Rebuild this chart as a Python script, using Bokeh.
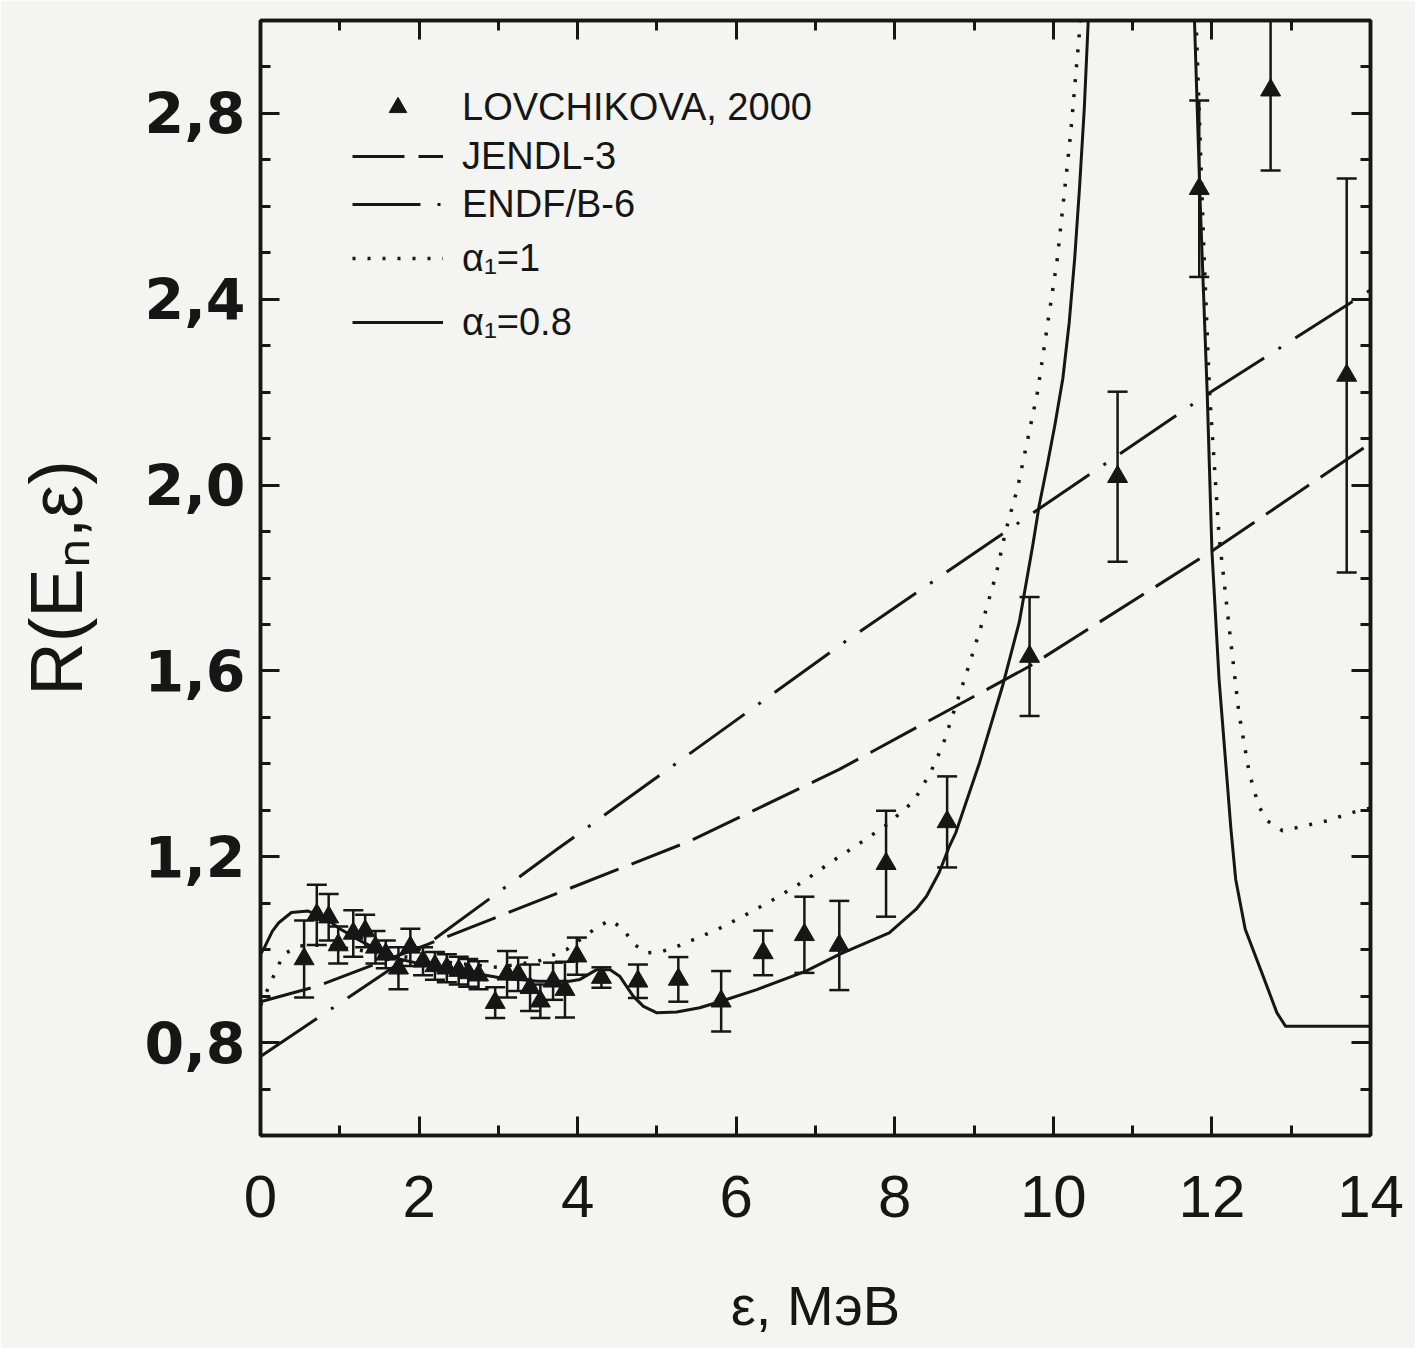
import math
from bokeh.plotting import figure
from bokeh.models import (Range1d, FixedTicker, CustomJSTickFormatter, LinearAxis,
                          Legend, LegendItem, ColumnDataSource)
from bokeh.embed import file_html
from bokeh.resources import INLINE

NaN = float("nan")

# ---------------- data ----------------
# LOVCHIKOVA, 2000 experimental points: energy (MeV), ratio, error
exp_x = [0.55, 0.71, 0.86, 0.98, 1.17, 1.32, 1.45, 1.58, 1.74, 1.89, 2.05, 2.20, 2.35,
         2.50, 2.62, 2.75, 2.96, 3.11, 3.25, 3.40, 3.53, 3.69, 3.84, 3.99, 4.30, 4.76,
         5.27, 5.81, 6.34, 6.86, 7.30, 7.89, 8.66, 9.70, 10.81, 11.84, 12.74, 13.70]
exp_y = [0.980, 1.075, 1.070, 1.010, 1.035, 1.040, 1.005, 0.990, 0.960, 1.005, 0.975, 0.965,
         0.960, 0.955, 0.950, 0.945, 0.886, 0.947, 0.947, 0.918, 0.889, 0.932, 0.914, 0.986,
         0.940, 0.932, 0.936, 0.889, 0.993, 1.032, 1.009, 1.185, 1.275, 1.631, 2.018, 2.638,
         2.850, 2.236]
exp_err = [0.083, 0.065, 0.050, 0.040, 0.050, 0.035, 0.035, 0.030, 0.045, 0.040, 0.030, 0.030,
           0.030, 0.030, 0.030, 0.030, 0.033, 0.050, 0.036, 0.050, 0.036, 0.040, 0.060, 0.040,
           0.022, 0.036, 0.048, 0.065, 0.048, 0.082, 0.096, 0.114, 0.098, 0.128, 0.183, 0.190,
           0.173, 0.424]

# JENDL-3 evaluation (dashed)
jendl_x = [0.0, 0.71, 2.1, 5.42, 7.3, 9.7, 12.0, 14.0]
jendl_y = [0.888, 0.921, 1.011, 1.234, 1.388, 1.610, 1.858, 2.090]

# ENDF/B-6 evaluation (dash-dot)
endf_x = [0.0, 2.1, 3.74, 7.39, 9.82, 11.92, 14.0]
endf_y = [0.770, 1.011, 1.216, 1.665, 1.949, 2.193, 2.420]

# calculation alpha1 = 1 (dotted); NaN = curve leaves the frame
a1_x = [0.0, 0.13, 0.29, 0.48, 0.8, 1.4, 2.0, 2.5, 3.0, 3.5, 3.86, 4.22, 4.41, 4.58, 4.70,
        4.87, 5.06, 5.23, 5.41, 5.77, 6.13, 6.49, 6.84, 7.20, 7.55, 7.91, 8.24, 8.45, 8.61,
        8.79, 8.96, 9.13, 9.28, 9.40, 9.55, 9.66, 9.80, 10.05, 10.22, 10.33, 10.42, NaN,
        11.76, 11.82, 11.90, 11.97, 12.09, 12.22, 12.34, 12.47, 12.59, 12.70, 12.89, 13.08,
        13.44, 13.79, 14.0]
a1_y = [0.880, 0.930, 0.990, 1.008, 1.010, 0.995, 0.980, 0.970, 0.962, 0.975, 1.000, 1.045,
        1.064, 1.044, 1.013, 0.993, 0.996, 1.005, 1.018, 1.044, 1.076, 1.110, 1.146, 1.189,
        1.228, 1.270, 1.320, 1.381, 1.442, 1.536, 1.625, 1.719, 1.809, 1.902, 1.995, 2.085,
        2.200, 2.487, 2.760, 2.976, 3.200, NaN,
        3.200, 2.900, 2.500, 2.200, 1.890, 1.690, 1.510, 1.381, 1.309, 1.277, 1.256, 1.263,
        1.277, 1.296, 1.305]

# calculation alpha1 = 0.8 (solid)
a08_x = [0.0, 0.06, 0.15, 0.23, 0.39, 0.6, 0.8, 1.0, 1.25, 1.5, 1.75, 2.0, 2.5, 3.0, 3.5,
         3.9, 4.03, 4.24, 4.41, 4.53, 4.70, 4.83, 5.0, 5.25, 5.54, 5.81, 6.26, 6.88, 7.30,
         7.93, 8.27, 8.40, 8.56, 8.69, 8.77, 9.07, 9.36, 9.57, 9.74, 9.82, 9.92, 10.02,
         10.12, 10.20, 10.27, 10.33, 10.39, 10.44, 10.48, NaN,
         11.75, 11.78, 11.85, 11.94, 12.00, 12.09, 12.19, 12.24, 12.30, 12.42, 12.63, 12.82,
         12.93, 14.0]
a08_y = [0.990, 1.008, 1.040, 1.058, 1.080, 1.083, 1.070, 1.045, 1.020, 0.998, 0.980, 0.970,
         0.955, 0.940, 0.932, 0.932, 0.936, 0.957, 0.957, 0.943, 0.900, 0.878, 0.864, 0.866,
         0.875, 0.889, 0.914, 0.954, 0.990, 1.036, 1.087, 1.115, 1.166, 1.223, 1.252, 1.403,
         1.568, 1.705, 1.870, 1.955, 2.040, 2.130, 2.230, 2.350, 2.490, 2.640, 2.810, 3.000,
         3.200, NaN,
         3.200, 3.000, 2.617, 2.200, 1.858, 1.582, 1.367, 1.259, 1.151, 1.044, 0.950, 0.864,
         0.835, 0.835]

x_major = [0, 2, 4, 6, 8, 10, 12, 14]
x_minor = [1, 3, 5, 7, 9, 11, 13]
y_major = [0.8, 1.2, 1.6, 2.0, 2.4, 2.8]
y_minor = [0.6, 0.7, 0.8, 0.9, 1.0, 1.1, 1.2, 1.3, 1.4, 1.5, 1.6, 1.7, 1.8, 1.9, 2.0,
           2.1, 2.2, 2.3, 2.4, 2.5, 2.6, 2.7, 2.8, 2.9, 3.0]

legend_labels = ["LOVCHIKOVA, 2000", "JENDL-3", "ENDF/B-6", "α\u2081=1", "α\u2081=0.8"]

# ---------------- figure ----------------
BG = "#f4f4f2"
INK = "#161616"
p = figure(width=1415, height=1348, output_backend="svg", toolbar_location=None,
           x_range=Range1d(0, 14), y_range=Range1d(0.6, 3.0),
           min_border_left=260, min_border_right=45, min_border_top=20,
           min_border_bottom=213, background_fill_color=BG, border_fill_color=BG,
           x_axis_label="ε, МэВ", y_axis_label="R(E\u2099,ε)")
p.grid.visible = False
p.outline_line_color = INK
p.outline_line_width = 3.5


def style_axis(ax, ticks, minor, show_labels):
    ax.ticker = FixedTicker(ticks=ticks, minor_ticks=minor)
    ax.axis_line_color = INK
    ax.axis_line_width = 3.5
    ax.major_tick_line_color = INK
    ax.major_tick_line_width = 3
    ax.minor_tick_line_color = INK
    ax.minor_tick_line_width = 3
    ax.major_tick_in = 19
    ax.major_tick_out = 0
    ax.minor_tick_in = 10
    ax.minor_tick_out = 0
    if not show_labels:
        ax.formatter = CustomJSTickFormatter(code="return ''")
        ax.major_label_standoff = 0


xb = p.xaxis[0]
yl = p.yaxis[0]
style_axis(xb, x_major, x_minor, True)
style_axis(yl, y_major, y_minor, True)

xb.major_label_text_font = "Liberation Sans"
xb.major_label_text_font_size = "60px"
xb.major_label_text_color = INK
xb.major_label_standoff = 40
xb.axis_label_text_font = "Liberation Sans"
xb.axis_label_text_font_size = "56px"
xb.axis_label_text_font_style = "normal"
xb.axis_label_text_color = INK
xb.axis_label_standoff = 54

yl.formatter = CustomJSTickFormatter(code="return tick.toFixed(1).replace('.', ',')")
yl.major_label_text_font = "DejaVu Sans"
yl.major_label_text_font_style = "bold"
yl.major_label_text_font_size = "57px"
yl.major_label_text_color = INK
yl.major_label_standoff = 15
yl.axis_label_text_font = "Liberation Sans"
yl.axis_label_text_font_size = "74px"
yl.axis_label_text_font_style = "normal"
yl.axis_label_text_color = INK
yl.axis_label_standoff = 44

top_ax = LinearAxis()
right_ax = LinearAxis()
style_axis(top_ax, x_major, x_minor, False)
style_axis(right_ax, y_major, y_minor, False)
p.add_layout(top_ax, "above")
p.add_layout(right_ax, "right")

# ---------------- curves ----------------
r_jendl = p.line(jendl_x, jendl_y, line_color=INK, line_width=3, line_dash="52 14")
r_endf = p.line(endf_x, endf_y, line_color=INK, line_width=3, line_dash="68 17 3 17")
r_a1 = p.line(a1_x, a1_y, line_color=INK, line_width=3.5, line_dash="3 12")
r_a08 = p.line(a08_x, a08_y, line_color=INK, line_width=3, line_join="round")

# ---------------- experimental points with error bars ----------------
lo = [y - e for y, e in zip(exp_y, exp_err)]
hi = [y + e for y, e in zip(exp_y, exp_err)]
src = ColumnDataSource(dict(x=exp_x, y=exp_y, lo=lo, hi=hi))
p.segment(x0="x", y0="lo", x1="x", y1="hi", source=src, line_color=INK, line_width=2.5)
p.scatter(x="x", y="lo", source=src, marker="dash", size=20, line_color=INK, line_width=2.5)
p.scatter(x="x", y="hi", source=src, marker="dash", size=20, line_color=INK, line_width=2.5)
r_exp = p.scatter(x="x", y="y", source=src, marker="triangle", size=20,
                  fill_color=INK, line_color=INK, line_width=1)

# ---------------- legend (one block per row, as in the original) ----------------
renderers = [r_exp, r_jendl, r_endf, r_a1, r_a08]
row_offsets = [1006, 957, 909, 855, 791]
for lab, rr, vy in zip(legend_labels, renderers, row_offsets):
    lg = Legend(items=[LegendItem(label=lab, renderers=[rr])], location=(92, vy),
                orientation="vertical", padding=0, margin=0, spacing=0,
                glyph_width=91, glyph_height=44, label_height=44, label_standoff=19,
                label_text_font="Liberation Sans", label_text_font_size="38px",
                label_text_color=INK, background_fill_alpha=0, border_line_alpha=0)
    p.add_layout(lg, "center")

open("out.html", "w").write(file_html(p, INLINE))
